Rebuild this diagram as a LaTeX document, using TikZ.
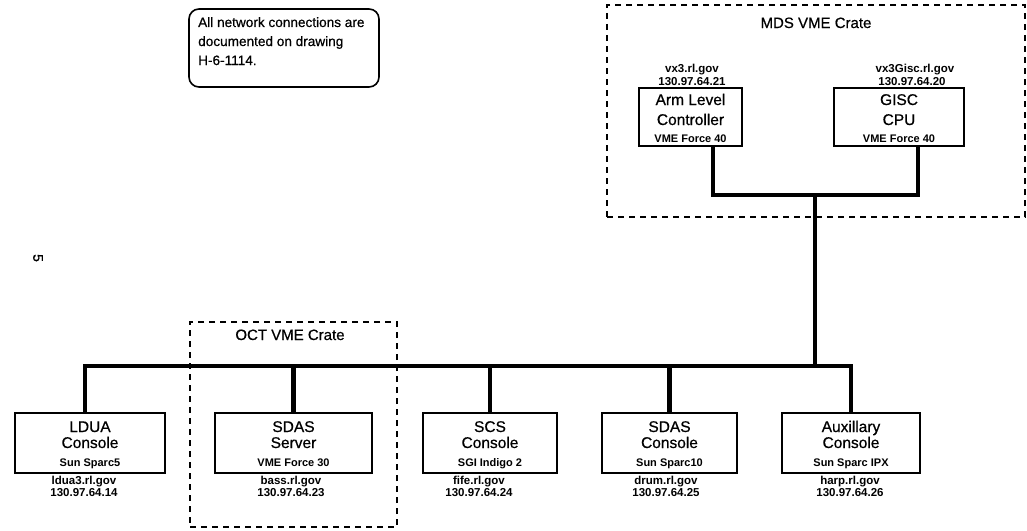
\documentclass[tikz,border=0pt]{standalone}
\usepackage{fontspec}
\setmainfont{Liberation Sans}
\newfontfamily\scanfont[FakeBold=0.6]{Liberation Sans}
\begin{document}
\begin{tikzpicture}[x=1pt,y=-1pt,
  unitbox/.style={draw,line width=1.6pt,inner sep=0pt},
  crate/.style={draw,line width=2pt,dash pattern=on 6pt off 5pt,inner sep=0pt},
  notebox/.style={draw,line width=1.6pt,rounded corners=10pt,inner sep=0pt},
  wire/.style={line width=4.5pt,line join=miter},
  bigtxt/.style={font=\scanfont\fontsize{15.5}{15.5}\selectfont,inner sep=0pt,anchor=base},
  subtxt/.style={font=\fontsize{11}{11}\selectfont\bfseries,inner sep=0pt,anchor=base},
  hosttxt/.style={font=\fontsize{11.5}{11.5}\selectfont\bfseries,inner sep=0pt,anchor=base},
  titletxt/.style={font=\scanfont\fontsize{15}{15}\selectfont,inner sep=0pt,anchor=base},
  notetxt/.style={font=\scanfont\fontsize{13.6}{13.6}\selectfont,inner sep=0pt,anchor=base west}
]
\useasboundingbox (0,0) rectangle (1027,530);

% crates
\node[crate,minimum width=418pt,minimum height=212pt] (mds) at (816,111) {};
\node[crate,minimum width=207pt,minimum height=205pt] (oct) at (293.5,424.5) {};
\node[titletxt] (mdst) at (816,28) {MDS VME Crate};
\node[titletxt] (octt) at (290,340) {OCT VME Crate};

% note
\node[notebox,minimum width=190pt,minimum height=78pt] (note) at (284,48) {};
\node[notetxt] (n1) at (198,27) {All network connections are};
\node[notetxt] (n2) at (198,46) {documented on drawing};
\node[notetxt] (n3) at (198,65) {H-6-1114.};

% page mark
\node[font=\scanfont\fontsize{14}{14}\selectfont,inner sep=0pt,rotate=-90] (pg) at (38,258) {5};

% MDS units
\node[unitbox,minimum width=103pt,minimum height=58pt] (arm) at (690.5,117) {};
\node[bigtxt] (arm1) at (690.5,105) {Arm Level};
\node[bigtxt] (arm2) at (690.5,125) {Controller};
\node[subtxt] (arm3) at (690.5,142) {VME Force 40};
\node[hosttxt] (armh) at (692,72) {vx3.rl.gov};
\node[hosttxt] (armi) at (692,85) {130.97.64.21};

\node[unitbox,minimum width=130pt,minimum height=58pt] (gisc) at (899,117) {};
\node[bigtxt] (gisc1) at (899,105) {GISC};
\node[bigtxt] (gisc2) at (899,125) {CPU};
\node[subtxt] (gisc3) at (899,142) {VME Force 40};
\node[hosttxt] (gisch) at (915,72) {vx3Gisc.rl.gov};
\node[hosttxt] (gisci) at (912,85) {130.97.64.20};

% bottom units
\node[unitbox,minimum width=150pt,minimum height=60pt] (ldua) at (90,443) {};
\node[bigtxt] (ldua1) at (90,432) {LDUA};
\node[bigtxt] (ldua2) at (90,448) {Console};
\node[subtxt] (ldua3) at (90,466) {Sun Sparc5};
\node[hosttxt] (lduah) at (84,484) {ldua3.rl.gov};
\node[hosttxt] (lduai) at (84,496) {130.97.64.14};

\node[unitbox,minimum width=157pt,minimum height=60pt] (sdss) at (293.5,443) {};
\node[bigtxt] (sdss1) at (293.5,432) {SDAS};
\node[bigtxt] (sdss2) at (293.5,448) {Server};
\node[subtxt] (sdss3) at (293.5,466) {VME Force 30};
\node[hosttxt] (sdssh) at (291,484) {bass.rl.gov};
\node[hosttxt] (sdssi) at (291,496) {130.97.64.23};

\node[unitbox,minimum width=134pt,minimum height=60pt] (scs) at (490,443) {};
\node[bigtxt] (scs1) at (490,432) {SCS};
\node[bigtxt] (scs2) at (490,448) {Console};
\node[subtxt] (scs3) at (490,466) {SGI Indigo 2};
\node[hosttxt] (scsh) at (479,484) {fife.rl.gov};
\node[hosttxt] (scsi) at (479,496) {130.97.64.24};

\node[unitbox,minimum width=135pt,minimum height=60pt] (sdsc) at (669.5,443) {};
\node[bigtxt] (sdsc1) at (669.5,432) {SDAS};
\node[bigtxt] (sdsc2) at (669.5,448) {Console};
\node[subtxt] (sdsc3) at (669.5,466) {Sun Sparc10};
\node[hosttxt] (sdsch) at (666,484) {drum.rl.gov};
\node[hosttxt] (sdsci) at (666,496) {130.97.64.25};

\node[unitbox,minimum width=138pt,minimum height=60pt] (aux) at (851,443) {};
\node[bigtxt] (aux1) at (851,432) {Auxillary};
\node[bigtxt] (aux2) at (851,448) {Console};
\node[subtxt] (aux3) at (851,466) {Sun Sparc IPX};
\node[hosttxt] (auxh) at (850,484) {harp.rl.gov};
\node[hosttxt] (auxi) at (850,496) {130.97.64.26};

% network
\coordinate (ja) at (713,195);
\coordinate (jg) at (918,195);
\coordinate (jt) at (815,195);
\coordinate (bt) at (815,366);
\coordinate (bl) at (85,366);
\coordinate (br) at (851,366);

\draw[wire] (arm.south -| ja) -- (ja) -- (jg) -- (gisc.south -| jg);
\draw[wire] (jt) -- (bt);
\draw[wire] (ldua.north -| bl) -- (bl) -- (br) -- (aux.north);
\draw[wire] (sdss.north) -- (sdss.north |- bl);
\draw[wire] (scs.north) -- (scs.north |- bl);
\draw[wire] (sdsc.north) -- (sdsc.north |- bl);
\end{tikzpicture}
\end{document}
